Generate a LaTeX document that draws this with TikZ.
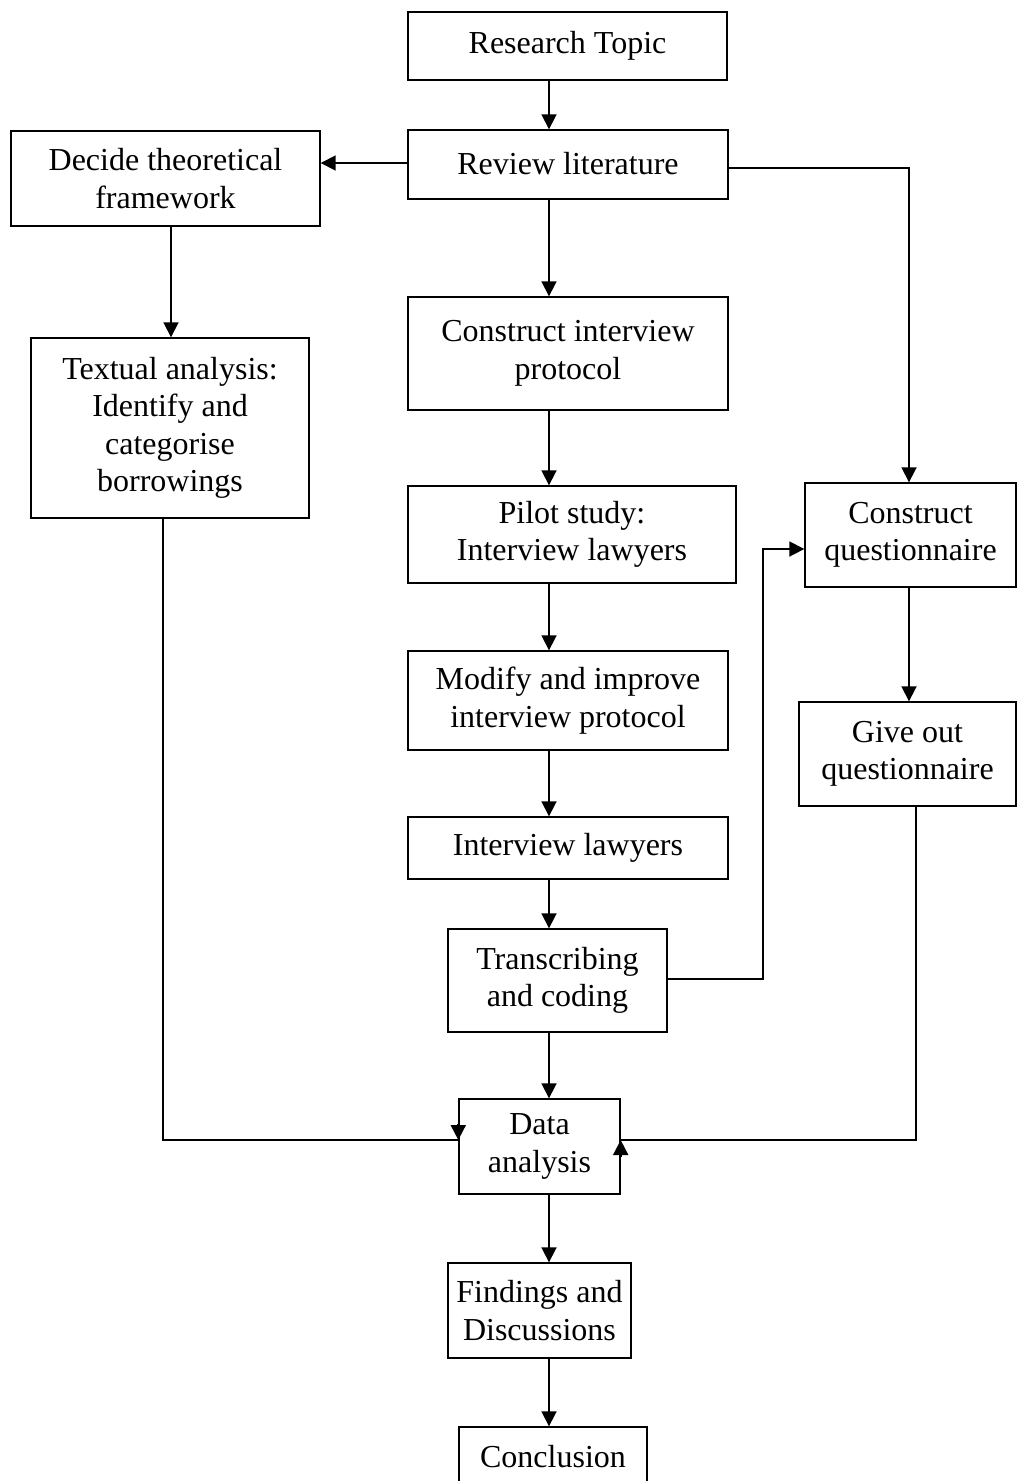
\documentclass[tikz,border=0pt]{standalone}
\usepackage{fontspec}
\setmainfont{Liberation Serif}
\usetikzlibrary{arrows.meta}
\begin{document}
\begin{tikzpicture}[x=1pt,y=-1pt,
  box/.style={draw,line width=1.4pt,inner sep=0pt,align=center,
    font=\fontsize{32}{37.5}\selectfont},
  arr/.style={line width=1.8pt,-{Triangle[length=15pt,width=15pt]}},
  ln/.style={line width=1.8pt}]
\useasboundingbox (0,0) rectangle (1017,1481);
% nodes
\node[box,minimum width=319pt,minimum height=68pt] (rt) at (567.5,46) {Research Topic};
\node[box,minimum width=320pt,minimum height=69pt] (rl) at (568,164.5) {\raisebox{3pt}{Review literature}};
\node[box,minimum width=309pt,minimum height=95pt] (dt) at (165.5,178.5) {Decide theoretical\\framework};
\node[box,minimum width=278pt,minimum height=180pt] (ta) at (170,428) {Textual analysis:\\Identify and\\categorise\\borrowings};
\node[box,minimum width=320pt,minimum height=113pt] (ci) at (568,353.5) {Construct interview\\protocol};
\node[box,minimum width=328pt,minimum height=97pt] (ps) at (572,534.5) {Pilot study:\\Interview lawyers};
\node[box,minimum width=320pt,minimum height=99pt] (mi) at (568,700.5) {Modify and improve\\interview protocol};
\node[box,minimum width=320pt,minimum height=62pt] (il) at (568,848) {Interview lawyers};
\node[box,minimum width=219pt,minimum height=103pt] (tc) at (557.5,980.5) {Transcribing\\and coding};
\node[box,minimum width=211pt,minimum height=104pt] (cq) at (910.5,535) {Construct\\questionnaire};
\node[box,minimum width=217pt,minimum height=104pt] (gq) at (907.5,754) {Give out\\questionnaire};
\node[box,minimum width=161pt,minimum height=95pt] (da) at (539.5,1146.5) {Data\\analysis};
\node[box,minimum width=183pt,minimum height=95pt] (fd) at (539.5,1310.5) {Findings and\\Discussions};
\node[box,minimum width=188pt,minimum height=63pt] (co) at (553,1458.5) {\raisebox{4.5pt}{Conclusion}};
% helper coordinates
\coordinate (cx) at (549,0);
\coordinate (lx) at (171,0);
\coordinate (qx) at (909,0);
\coordinate (gx) at (916,0);
\coordinate (tx) at (163,0);
\coordinate (h1) at (0,163);
\coordinate (h2) at (0,168);
\coordinate (h3) at (0,979);
\coordinate (h4) at (0,549);
\coordinate (hd) at (0,1140);
\coordinate (hu) at (0,1157);
\coordinate (hdt) at (0,1124);
\coordinate (v1) at (763,979);
\coordinate (v2) at (763,549);
\coordinate (g1) at (916,1140);
\coordinate (t1) at (163,1140);
% connectors
\draw[arr] (rt.south -| cx) -- (rl.north -| cx);
\draw[arr] (rl.west |- h1) -- (dt.east |- h1);
\draw[arr] (rl.east |- h2) -| (cq.north -| qx);
\draw[arr] (rl.south -| cx) -- (ci.north -| cx);
\draw[arr] (dt.south -| lx) -- (ta.north -| lx);
\draw[arr] (ci.south -| cx) -- (ps.north -| cx);
\draw[arr] (ps.south -| cx) -- (mi.north -| cx);
\draw[arr] (mi.south -| cx) -- (il.north -| cx);
\draw[arr] (il.south -| cx) -- (tc.north -| cx);
\draw[arr] (tc.south -| cx) -- (da.north -| cx);
\draw[arr] (da.south -| cx) -- (fd.north -| cx);
\draw[arr] (fd.south -| cx) -- (co.north -| cx);
\draw[arr] (tc.east |- h3) -- (v1) -- (v2) -- (cq.west |- h4);
\draw[arr] (cq.south -| qx) -- (gq.north -| qx);
\draw[ln] (gq.south -| gx) -- (g1) -- (da.east |- hd);
\draw[arr] (da.east |- hu) -- (da.east |- hd);
\draw[ln] (ta.south -| tx) -- (t1) -- (da.west |- hd);
\draw[arr] (da.west |- hdt) -- (da.west |- hd);
\end{tikzpicture}
\end{document}
